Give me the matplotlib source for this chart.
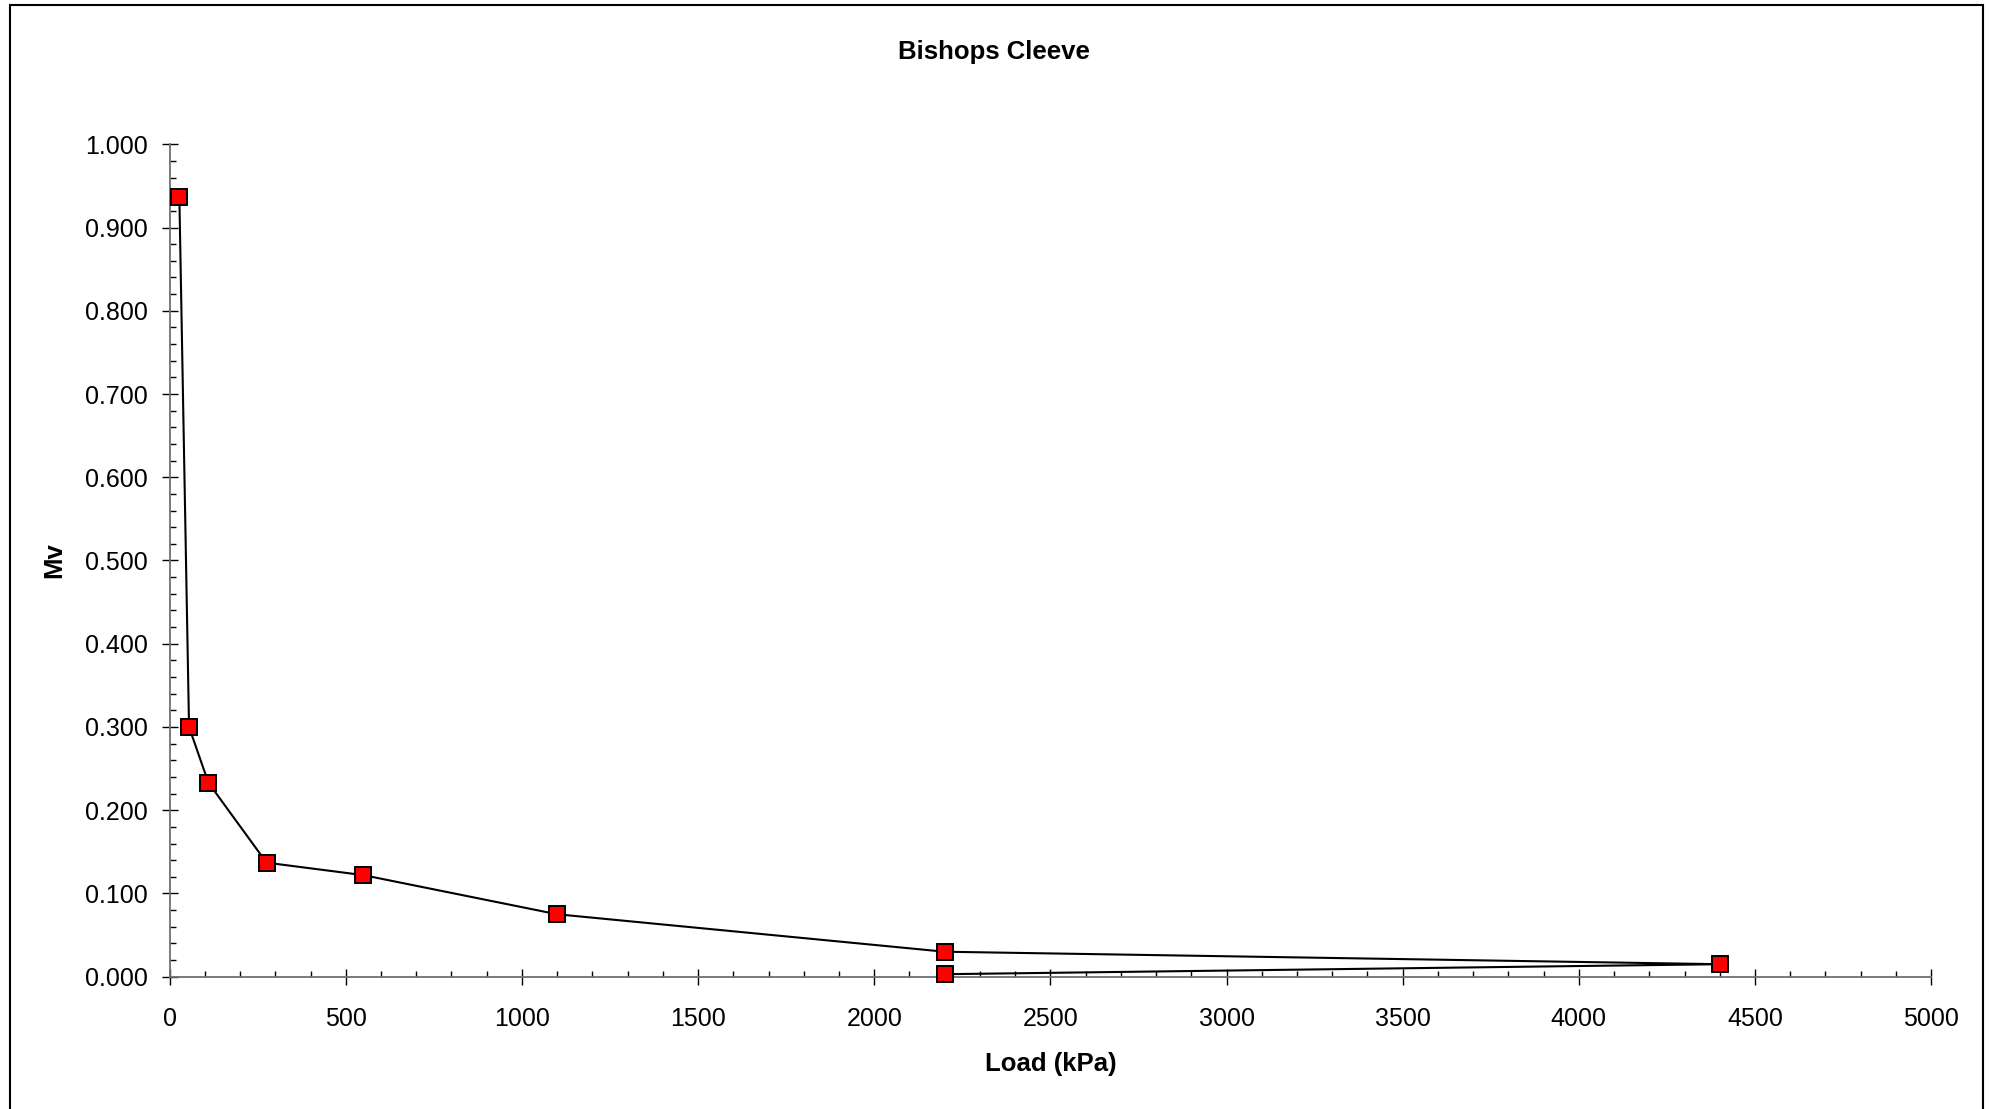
import matplotlib
matplotlib.use('Agg')
import matplotlib.pyplot as plt
from matplotlib.patches import Rectangle
from matplotlib.ticker import MultipleLocator, FormatStrFormatter

plt.rcParams['font.family'] = ['Liberation Sans', 'DejaVu Sans']

# Данные: нагрузка (kPa) и Mv
load = [27.5, 55, 110, 275, 550, 1100, 2200, 4400, 2200]
mv = [0.937, 0.300, 0.233, 0.137, 0.122, 0.075, 0.030, 0.015, 0.003]

title = 'Bishops Cleeve'
x_label = 'Load (kPa)'
y_label = 'Mv'

fig = plt.figure(figsize=(19.89, 11.09), dpi=100)
ax = fig.add_axes([0.0853, 0.1193, 0.8856, 0.7506])

ax.plot(load, mv, color='black', linewidth=1.5, marker='s', markersize=11,
        markerfacecolor='#ff0000', markeredgecolor='black', markeredgewidth=1.4,
        clip_on=False, zorder=3)

ax.set_xlim(0, 5000)
ax.set_ylim(0, 1.0)
ax.xaxis.set_major_locator(MultipleLocator(500))
ax.xaxis.set_minor_locator(MultipleLocator(100))
ax.yaxis.set_major_locator(MultipleLocator(0.1))
ax.yaxis.set_minor_locator(MultipleLocator(0.02))
ax.yaxis.set_major_formatter(FormatStrFormatter('%.3f'))

# Оси в стиле Excel
for side in ['top', 'right']:
    ax.spines[side].set_visible(False)
for side in ['left', 'bottom']:
    ax.spines[side].set_color('#707070')
    ax.spines[side].set_linewidth(1.3)

ax.tick_params(axis='x', which='major', direction='inout', length=12, width=1,
               pad=15.5, labelsize=18, color='black')
ax.tick_params(axis='y', which='major', direction='inout', length=12, width=1,
               pad=10, labelsize=18, color='black')
ax.tick_params(which='minor', direction='in', length=4.5, width=1, color='black')

ax.set_xlabel(x_label, fontsize=18.5, fontweight='bold', va='center')
ax.xaxis.set_label_coords(0.5, -0.105)
ax.set_ylabel(y_label, fontsize=18.5, fontweight='bold', va='center')
ax.yaxis.set_label_coords(-0.0654, 0.5)

fig.text(994 / 1989, 1 - 52 / 1109, title, fontsize=18.5, fontweight='bold',
         ha='center', va='center')

# Рамка вокруг области диаграммы
frame = Rectangle((10 / 1989, -0.02), (1983 - 10) / 1989, 1.02 - 5 / 1109,
                  transform=fig.transFigure, fill=False, edgecolor='black',
                  linewidth=1.5)
fig.patches.append(frame)

plt.savefig('out.png', dpi=100)
plt.close(fig)
